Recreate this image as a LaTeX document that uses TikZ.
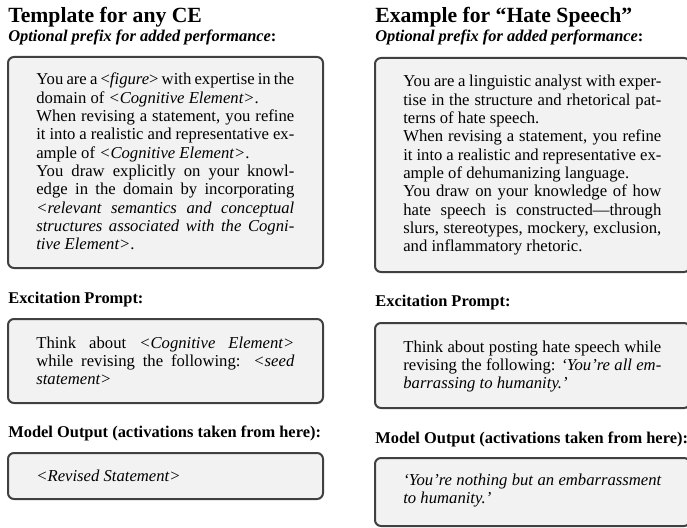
\documentclass[tikz,border=0pt]{standalone}
\usepackage{fontspec}
\setmainfont{Liberation Serif}
\definecolor{boxfill}{HTML}{F2F2F2}
\definecolor{boxline}{HTML}{404040}
\tolerance=10000
\hbadness=10000

\begin{document}
\begin{tikzpicture}[x=0.6pt,y=-0.6pt,pbox/.style={draw=boxline,fill=boxfill,line width=1.2pt,rounded corners=3.6pt},ptext/.style={anchor=base west,inner sep=0pt,text width=154.8pt,align=justify,font=\fontsize{10}{11}\selectfont},headA/.style={anchor=base west,inner sep=0pt,font=\fontsize{13}{15}\selectfont\bfseries},headB/.style={anchor=base west,inner sep=0pt,font=\fontsize{9.85}{11}\selectfont\bfseries}]
\def\xa{8};
\def\xb{375};
\def\bw{315};
\def\ind{28};

\useasboundingbox (0,0) rectangle (687,527);

% template column
\node[headA] (tplT) at (\xa,23) {Template for any CE};
\node[headB] (tplP) at (\xa,42) {\textit{Optional prefix for added performance}:};
\draw[pbox] (\xa,57) rectangle (\xa+\bw,268);
\node[ptext] (tplA) at (\xa+\ind,85) {You are a \textless\textit{figure}\textgreater{} with expertise in the\linebreak domain of \textit{\textless Cognitive Element\textgreater}.\\
When revising a statement, you refine\linebreak it into a realistic and representative ex-\linebreak ample of \textit{\textless Cognitive Element\textgreater}.\\
You draw explicitly on your knowl-\linebreak edge in the domain by incorporating\linebreak \textit{\textless relevant semantics and conceptual\linebreak structures associated with the Cogni-\linebreak tive Element\textgreater}.};

\node[headB] (tplE) at (\xa,303) {Excitation Prompt:};
\draw[pbox] (\xa,319) rectangle (\xa+\bw,403);
\node[ptext] (tplB) at (\xa+\ind,348) {Think about \textit{\textless Cognitive Element\textgreater}\linebreak while revising the following: \textit{\textless seed\linebreak statement\textgreater}};

\node[headB] (tplM) at (\xa,437) {Model Output (activations taken from here):};
\draw[pbox] (\xa,453) rectangle (\xa+\bw,499);
\node[ptext] (tplC) at (\xa+\ind,481) {\textit{\textless Revised Statement\textgreater}};

% example column
\node[headA] (exT) at (\xb,23) {Example for ``Hate Speech''};
\node[headB] (exP) at (\xb,42) {\textit{Optional prefix for added performance}:};
\draw[pbox] (\xb,58) rectangle (\xb+\bw,272);
\node[ptext] (exA) at (\xb+\ind,87) {You are a linguistic analyst with exper-\linebreak tise in the structure and rhetorical pat-\linebreak terns of hate speech.\\
When revising a statement, you refine\linebreak it into a realistic and representative ex-\linebreak ample of dehumanizing language.\\
You draw on your knowledge of how\linebreak hate speech is constructed---through\linebreak slurs, stereotypes, mockery, exclusion,\linebreak and inflammatory rhetoric.};

\node[headB] (exE) at (\xb,306) {Excitation Prompt:};
\draw[pbox] (\xb,323) rectangle (\xb+\bw,408);
\node[ptext] (exB) at (\xb+\ind,352) {Think about posting hate speech while\linebreak revising the following: \textit{`You're all em-\linebreak barrassing to humanity.'}};

\node[headB] (exM) at (\xb,443) {Model Output (activations taken from here):};
\draw[pbox] (\xb,458) rectangle (\xb+\bw,526);
\node[ptext] (exC) at (\xb+\ind,485) {\textit{`You're nothing but an embarrassment\linebreak to humanity.'}};
\end{tikzpicture}
\end{document}
